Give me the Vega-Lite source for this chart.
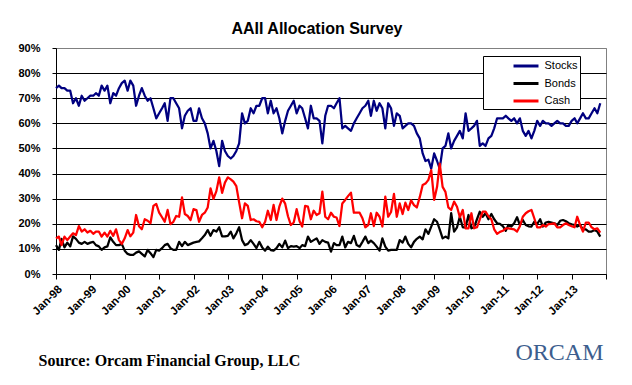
{
"$schema": "https://vega.github.io/schema/vega-lite/v6.json",
"width": 550, "height": 226,
"autosize": "none",
"padding": {"left": 56, "top": 48, "right": 26, "bottom": 111},
"background": "white",
"config": {"font": "Liberation Sans", "view": {"stroke": "#808080", "strokeWidth": 1}},
"title": {"text": "AAII Allocation Survey", "font": "Liberation Sans", "fontSize": 16, "fontWeight": "bold", "color": "black", "anchor": "middle", "frame": "group", "dx": -14, "offset": -8, "baseline": "alphabetic"},
"data": {"values": [
{"d":"1998-01","Stocks":74,"Bonds":11.5,"Cash":14.2},
{"d":"1998-02","Stocks":75,"Bonds":9.6,"Cash":14.9},
{"d":"1998-03","Stocks":74,"Bonds":14,"Cash":11.5},
{"d":"1998-04","Stocks":74,"Bonds":10.6,"Cash":14.9},
{"d":"1998-05","Stocks":73,"Bonds":12.5,"Cash":13.5},
{"d":"1998-06","Stocks":73,"Bonds":11,"Cash":14.9},
{"d":"1998-07","Stocks":68,"Bonds":15,"Cash":16.2},
{"d":"1998-08","Stocks":70,"Bonds":14,"Cash":15.5},
{"d":"1998-09","Stocks":67,"Bonds":12.5,"Cash":19.1},
{"d":"1998-10","Stocks":71,"Bonds":12,"Cash":16.9},
{"d":"1998-11","Stocks":69,"Bonds":12.8,"Cash":17.8},
{"d":"1998-12","Stocks":70,"Bonds":12,"Cash":16.5},
{"d":"1999-01","Stocks":71,"Bonds":12.5,"Cash":17.2},
{"d":"1999-02","Stocks":71,"Bonds":12.8,"Cash":16},
{"d":"1999-03","Stocks":72,"Bonds":11.5,"Cash":16.9},
{"d":"1999-04","Stocks":71,"Bonds":11,"Cash":16.9},
{"d":"1999-05","Stocks":75,"Bonds":9.6,"Cash":14.9},
{"d":"1999-06","Stocks":73,"Bonds":10.6,"Cash":16.5},
{"d":"1999-07","Stocks":75,"Bonds":11,"Cash":14.9},
{"d":"1999-08","Stocks":68,"Bonds":14.6,"Cash":17.2},
{"d":"1999-09","Stocks":72,"Bonds":12.8,"Cash":15.2},
{"d":"1999-10","Stocks":71,"Bonds":11.5,"Cash":17.8},
{"d":"1999-11","Stocks":74,"Bonds":11.5,"Cash":13.5},
{"d":"1999-12","Stocks":76,"Bonds":12,"Cash":12},
{"d":"2000-01","Stocks":77,"Bonds":9.3,"Cash":14.2},
{"d":"2000-02","Stocks":73,"Bonds":8,"Cash":17.5},
{"d":"2000-03","Stocks":77,"Bonds":7.6,"Cash":15},
{"d":"2000-04","Stocks":75,"Bonds":7.6,"Cash":16.5},
{"d":"2000-05","Stocks":67,"Bonds":8.5,"Cash":23.5},
{"d":"2000-06","Stocks":71,"Bonds":9,"Cash":19},
{"d":"2000-07","Stocks":74,"Bonds":8,"Cash":17.8},
{"d":"2000-08","Stocks":71,"Bonds":7,"Cash":21.8},
{"d":"2000-09","Stocks":69,"Bonds":9.6,"Cash":21.2},
{"d":"2000-10","Stocks":70,"Bonds":8.3,"Cash":20.2},
{"d":"2000-11","Stocks":66,"Bonds":6.7,"Cash":27.1},
{"d":"2000-12","Stocks":62,"Bonds":9.6,"Cash":27.9},
{"d":"2001-01","Stocks":64,"Bonds":9.3,"Cash":24.4},
{"d":"2001-02","Stocks":66,"Bonds":10.3,"Cash":22.6},
{"d":"2001-03","Stocks":68,"Bonds":11.5,"Cash":20.8},
{"d":"2001-04","Stocks":61,"Bonds":12,"Cash":25.5},
{"d":"2001-05","Stocks":70,"Bonds":10.3,"Cash":19.9},
{"d":"2001-06","Stocks":70,"Bonds":9.6,"Cash":20.8},
{"d":"2001-07","Stocks":68,"Bonds":9.6,"Cash":23.1},
{"d":"2001-08","Stocks":66,"Bonds":12.8,"Cash":22.8},
{"d":"2001-09","Stocks":58,"Bonds":11.1,"Cash":30.5},
{"d":"2001-10","Stocks":63,"Bonds":12.8,"Cash":23.9},
{"d":"2001-11","Stocks":65,"Bonds":11.5,"Cash":23.1},
{"d":"2001-12","Stocks":66,"Bonds":12,"Cash":21.5},
{"d":"2002-01","Stocks":61,"Bonds":12.5,"Cash":25.8},
{"d":"2002-02","Stocks":61,"Bonds":12.8,"Cash":25.5},
{"d":"2002-03","Stocks":66,"Bonds":13,"Cash":20.8},
{"d":"2002-04","Stocks":62,"Bonds":14.2,"Cash":23.5},
{"d":"2002-05","Stocks":60,"Bonds":15.5,"Cash":24.4},
{"d":"2002-06","Stocks":56,"Bonds":17.5,"Cash":26.5},
{"d":"2002-07","Stocks":50,"Bonds":15.2,"Cash":34.1},
{"d":"2002-08","Stocks":53,"Bonds":17.5,"Cash":29.9},
{"d":"2002-09","Stocks":49,"Bonds":16.9,"Cash":33},
{"d":"2002-10","Stocks":43,"Bonds":18.6,"Cash":38.5},
{"d":"2002-11","Stocks":53,"Bonds":15,"Cash":32.3},
{"d":"2002-12","Stocks":49,"Bonds":15,"Cash":36.4},
{"d":"2003-01","Stocks":47,"Bonds":15.2,"Cash":38.5},
{"d":"2003-02","Stocks":46,"Bonds":16.9,"Cash":37.7},
{"d":"2003-03","Stocks":47,"Bonds":14.2,"Cash":36.8},
{"d":"2003-04","Stocks":49,"Bonds":16.2,"Cash":35},
{"d":"2003-05","Stocks":52,"Bonds":18.6,"Cash":28.5},
{"d":"2003-06","Stocks":64,"Bonds":13.5,"Cash":22.2},
{"d":"2003-07","Stocks":60,"Bonds":11.5,"Cash":28.1},
{"d":"2003-08","Stocks":61,"Bonds":12,"Cash":27.1},
{"d":"2003-09","Stocks":66,"Bonds":13.5,"Cash":21.5},
{"d":"2003-10","Stocks":64,"Bonds":12,"Cash":21.8},
{"d":"2003-11","Stocks":67,"Bonds":10.3,"Cash":21},
{"d":"2003-12","Stocks":67,"Bonds":12.8,"Cash":20.8},
{"d":"2004-01","Stocks":70,"Bonds":10.6,"Cash":18.6},
{"d":"2004-02","Stocks":70,"Bonds":9.3,"Cash":20.8},
{"d":"2004-03","Stocks":64,"Bonds":10.9,"Cash":25.2},
{"d":"2004-04","Stocks":69,"Bonds":9.5,"Cash":21.5},
{"d":"2004-05","Stocks":64,"Bonds":9.3,"Cash":27.5},
{"d":"2004-06","Stocks":66,"Bonds":10.3,"Cash":21.5},
{"d":"2004-07","Stocks":62,"Bonds":12,"Cash":26.8},
{"d":"2004-08","Stocks":56,"Bonds":10.6,"Cash":30},
{"d":"2004-09","Stocks":61,"Bonds":13.3,"Cash":28},
{"d":"2004-10","Stocks":65,"Bonds":10.3,"Cash":23},
{"d":"2004-11","Stocks":67,"Bonds":11.1,"Cash":19.5},
{"d":"2004-12","Stocks":69,"Bonds":10.9,"Cash":20.5},
{"d":"2005-01","Stocks":64,"Bonds":11.1,"Cash":25.8},
{"d":"2005-02","Stocks":67,"Bonds":10.3,"Cash":21},
{"d":"2005-03","Stocks":66,"Bonds":11.5,"Cash":18.9},
{"d":"2005-04","Stocks":62,"Bonds":11.1,"Cash":27.1},
{"d":"2005-05","Stocks":58,"Bonds":14.9,"Cash":26.8},
{"d":"2005-06","Stocks":67,"Bonds":12.8,"Cash":21.8},
{"d":"2005-07","Stocks":62,"Bonds":13.5,"Cash":25.2},
{"d":"2005-08","Stocks":62,"Bonds":14.2,"Cash":23.5},
{"d":"2005-09","Stocks":61,"Bonds":12,"Cash":24.2},
{"d":"2005-10","Stocks":52,"Bonds":13.5,"Cash":32.8},
{"d":"2005-11","Stocks":63,"Bonds":12.8,"Cash":22.8},
{"d":"2005-12","Stocks":67,"Bonds":12.5,"Cash":21.8},
{"d":"2006-01","Stocks":67,"Bonds":8.9,"Cash":24.4},
{"d":"2006-02","Stocks":66,"Bonds":12.3,"Cash":22.8},
{"d":"2006-03","Stocks":68,"Bonds":11.5,"Cash":22.5},
{"d":"2006-04","Stocks":70,"Bonds":11.5,"Cash":19.1},
{"d":"2006-05","Stocks":58,"Bonds":14.9,"Cash":28.1},
{"d":"2006-06","Stocks":59,"Bonds":10.6,"Cash":29.5},
{"d":"2006-07","Stocks":58,"Bonds":12.8,"Cash":31},
{"d":"2006-08","Stocks":57,"Bonds":12.3,"Cash":32.4},
{"d":"2006-09","Stocks":60,"Bonds":15.2,"Cash":24.4},
{"d":"2006-10","Stocks":62,"Bonds":11.5,"Cash":24.4},
{"d":"2006-11","Stocks":64,"Bonds":10.9,"Cash":24.4},
{"d":"2006-12","Stocks":66,"Bonds":12.8,"Cash":22.2},
{"d":"2007-01","Stocks":67,"Bonds":14.9,"Cash":18.6},
{"d":"2007-02","Stocks":69,"Bonds":12.3,"Cash":19.5},
{"d":"2007-03","Stocks":63,"Bonds":13.3,"Cash":24.2},
{"d":"2007-04","Stocks":69,"Bonds":12.3,"Cash":19.1},
{"d":"2007-05","Stocks":65,"Bonds":10.9,"Cash":24.4},
{"d":"2007-06","Stocks":68,"Bonds":9.3,"Cash":22.8},
{"d":"2007-07","Stocks":66,"Bonds":14.2,"Cash":18.9},
{"d":"2007-08","Stocks":58,"Bonds":10.9,"Cash":30.8},
{"d":"2007-09","Stocks":68,"Bonds":9.3,"Cash":22.8},
{"d":"2007-10","Stocks":66,"Bonds":9.6,"Cash":24.7},
{"d":"2007-11","Stocks":59,"Bonds":9.6,"Cash":31.9},
{"d":"2007-12","Stocks":64,"Bonds":9.6,"Cash":22.8},
{"d":"2008-01","Stocks":63,"Bonds":13.5,"Cash":28.1},
{"d":"2008-02","Stocks":58,"Bonds":12.5,"Cash":23.9},
{"d":"2008-03","Stocks":59,"Bonds":14.9,"Cash":28.4},
{"d":"2008-04","Stocks":60,"Bonds":12,"Cash":25.5},
{"d":"2008-05","Stocks":60,"Bonds":10.6,"Cash":29.3},
{"d":"2008-06","Stocks":59,"Bonds":12.8,"Cash":27.4},
{"d":"2008-07","Stocks":56,"Bonds":14,"Cash":26.5},
{"d":"2008-08","Stocks":54,"Bonds":14.9,"Cash":30.6},
{"d":"2008-09","Stocks":48,"Bonds":13.8,"Cash":35.4},
{"d":"2008-10","Stocks":45,"Bonds":17.8,"Cash":36},
{"d":"2008-11","Stocks":45.5,"Bonds":16,"Cash":37.5},
{"d":"2008-12","Stocks":42,"Bonds":18.9,"Cash":41.4},
{"d":"2009-01","Stocks":48,"Bonds":21.8,"Cash":29.5},
{"d":"2009-02","Stocks":45,"Bonds":20.8,"Cash":34.7},
{"d":"2009-03","Stocks":42,"Bonds":17.8,"Cash":44},
{"d":"2009-04","Stocks":50,"Bonds":14.2,"Cash":34.7},
{"d":"2009-05","Stocks":51,"Bonds":14.9,"Cash":32.7},
{"d":"2009-06","Stocks":56,"Bonds":14.2,"Cash":26.5},
{"d":"2009-07","Stocks":50,"Bonds":24.2,"Cash":25.5},
{"d":"2009-08","Stocks":53,"Bonds":16.9,"Cash":28.8},
{"d":"2009-09","Stocks":55,"Bonds":18.6,"Cash":26.8},
{"d":"2009-10","Stocks":57,"Bonds":22.8,"Cash":22.6},
{"d":"2009-11","Stocks":54,"Bonds":18.6,"Cash":25.5},
{"d":"2009-12","Stocks":64,"Bonds":18.6,"Cash":18.2},
{"d":"2010-01","Stocks":57,"Bonds":23.5,"Cash":18.2},
{"d":"2010-02","Stocks":58,"Bonds":18.2,"Cash":24.2},
{"d":"2010-03","Stocks":59,"Bonds":18.6,"Cash":18.2},
{"d":"2010-04","Stocks":61,"Bonds":21.8,"Cash":18.6},
{"d":"2010-05","Stocks":51,"Bonds":24.8,"Cash":21.8},
{"d":"2010-06","Stocks":52,"Bonds":22.8,"Cash":24.8},
{"d":"2010-07","Stocks":51,"Bonds":24.2,"Cash":24.8},
{"d":"2010-08","Stocks":54,"Bonds":21.8,"Cash":23},
{"d":"2010-09","Stocks":55,"Bonds":23.9,"Cash":21.8},
{"d":"2010-10","Stocks":58,"Bonds":21.8,"Cash":17.8},
{"d":"2010-11","Stocks":62,"Bonds":20.2,"Cash":16},
{"d":"2010-12","Stocks":62,"Bonds":20,"Cash":16.8},
{"d":"2011-01","Stocks":62,"Bonds":19.1,"Cash":17.2},
{"d":"2011-02","Stocks":63,"Bonds":17.2,"Cash":18.2},
{"d":"2011-03","Stocks":62,"Bonds":19.5,"Cash":18.2},
{"d":"2011-04","Stocks":61,"Bonds":18.9,"Cash":18},
{"d":"2011-05","Stocks":62,"Bonds":20.2,"Cash":17.8},
{"d":"2011-06","Stocks":60,"Bonds":22.6,"Cash":16.9},
{"d":"2011-07","Stocks":62,"Bonds":19.5,"Cash":19},
{"d":"2011-08","Stocks":57,"Bonds":21.5,"Cash":22.8},
{"d":"2011-09","Stocks":55,"Bonds":19.5,"Cash":24.2},
{"d":"2011-10","Stocks":57,"Bonds":19,"Cash":25},
{"d":"2011-11","Stocks":54,"Bonds":18.9,"Cash":25.5},
{"d":"2011-12","Stocks":57,"Bonds":20.8,"Cash":22.2},
{"d":"2012-01","Stocks":61,"Bonds":19.9,"Cash":18.6},
{"d":"2012-02","Stocks":59,"Bonds":21.8,"Cash":18.6},
{"d":"2012-03","Stocks":61,"Bonds":18.9,"Cash":19.5},
{"d":"2012-04","Stocks":60,"Bonds":20.5,"Cash":18.9},
{"d":"2012-05","Stocks":60,"Bonds":20.8,"Cash":19.9},
{"d":"2012-06","Stocks":59,"Bonds":20.5,"Cash":20},
{"d":"2012-07","Stocks":60,"Bonds":20.2,"Cash":20.2},
{"d":"2012-08","Stocks":61,"Bonds":19.5,"Cash":18.6},
{"d":"2012-09","Stocks":60,"Bonds":21.2,"Cash":18.6},
{"d":"2012-10","Stocks":60,"Bonds":21.5,"Cash":19.5},
{"d":"2012-11","Stocks":59,"Bonds":21,"Cash":20.2},
{"d":"2012-12","Stocks":59,"Bonds":20.2,"Cash":19.5},
{"d":"2013-01","Stocks":61,"Bonds":19.8,"Cash":19},
{"d":"2013-02","Stocks":62,"Bonds":19.5,"Cash":18.6},
{"d":"2013-03","Stocks":60,"Bonds":18.9,"Cash":22.8},
{"d":"2013-04","Stocks":62,"Bonds":19.5,"Cash":19.5},
{"d":"2013-05","Stocks":64,"Bonds":17.8,"Cash":16.9},
{"d":"2013-06","Stocks":62,"Bonds":17.8,"Cash":20.5},
{"d":"2013-07","Stocks":62,"Bonds":16.9,"Cash":20.5},
{"d":"2013-08","Stocks":64,"Bonds":16.9,"Cash":18.6},
{"d":"2013-09","Stocks":66,"Bonds":17.5,"Cash":17.8},
{"d":"2013-10","Stocks":64,"Bonds":16.9,"Cash":18.2},
{"d":"2013-11","Stocks":68,"Bonds":14.9,"Cash":16.5}
]},
"transform": [{"fold": ["Stocks", "Bonds", "Cash"], "as": ["series", "value"]}],
"mark": {"type": "line", "strokeWidth": 2.25, "strokeJoin": "round"},
"encoding": {
"x": {"field": "d", "type": "temporal",
"scale": {"type": "utc", "nice": false, "domain": [{"year": 1998, "month": 1, "date": 1, "utc": true}, {"year": 2014, "month": 1, "date": 1, "utc": true}]},
"axis": {"title": "Source: Orcam Financial Group, LLC", "titleFont": "Liberation Serif", "titleFontSize": 16, "titleFontWeight": "bold", "titleColor": "black", "titleAnchor": "start", "titleAlign": "left", "titleX": -18, "titleY": 91, "titleBaseline": "alphabetic",
"tickCount": {"interval": "year", "step": 1}, "labelExpr": "utcyear(datum.value) >= 2014 ? '' : utcFormat(datum.value, '%b-%y')", "labelAngle": -45, "labelFont": "Liberation Sans", "labelFontSize": 11.5, "labelFontWeight": "bold", "labelColor": "black", "labelOverlap": false, "labelPadding": 4, "domainColor": "black", "domainWidth": 1, "tickColor": "black", "tickSize": 5, "grid": false}},
"y": {"field": "value", "type": "quantitative",
"scale": {"domain": [0, 90], "nice": false, "zero": true},
"axis": {"title": "ORCAM", "titleAngle": 0, "titleX": 459, "titleY": 311, "titleAlign": "left", "titleBaseline": "alphabetic", "titleFont": "Liberation Serif", "titleFontSize": 24, "titleFontWeight": "normal", "titleColor": "#3d5e8e",
"values": [0, 10, 20, 30, 40, 50, 60, 70, 80, 90], "tickCount": 20, "labelOverlap": false, "labelExpr": "datum.value + '%'", "labelFont": "Liberation Sans", "labelFontSize": 11, "labelFontWeight": "bold", "labelColor": "black", "labelPadding": 12, "domainColor": "black", "tickColor": "black", "tickSize": 4,
"grid": true, "gridColor": {"condition": {"test": "datum.value === 90", "value": "#808080"}, "value": "black"}, "gridOpacity": 1, "gridWidth": 1}},
"color": {"field": "series", "type": "nominal",
"scale": {"domain": ["Stocks", "Bonds", "Cash"], "range": ["#000080", "#000000", "#FF0000"]},
"legend": {"orient": "none", "legendX": 427, "legendY": 8, "title": null, "direction": "vertical", "strokeColor": "black", "fillColor": "white", "padding": 2, "symbolType": "M-2,0H2", "symbolStrokeWidth": 3, "symbolSize": 156, "symbolOffset": 33, "labelFont": "Liberation Sans", "labelFontSize": 11, "labelColor": "black", "labelOffset": 10.5, "rowPadding": 3.5, "labelExpr": "datum.label + '\u00a0\u00a0\u00a0\u00a0\u00a0\u00a0\u00a0'"}}
}
}
